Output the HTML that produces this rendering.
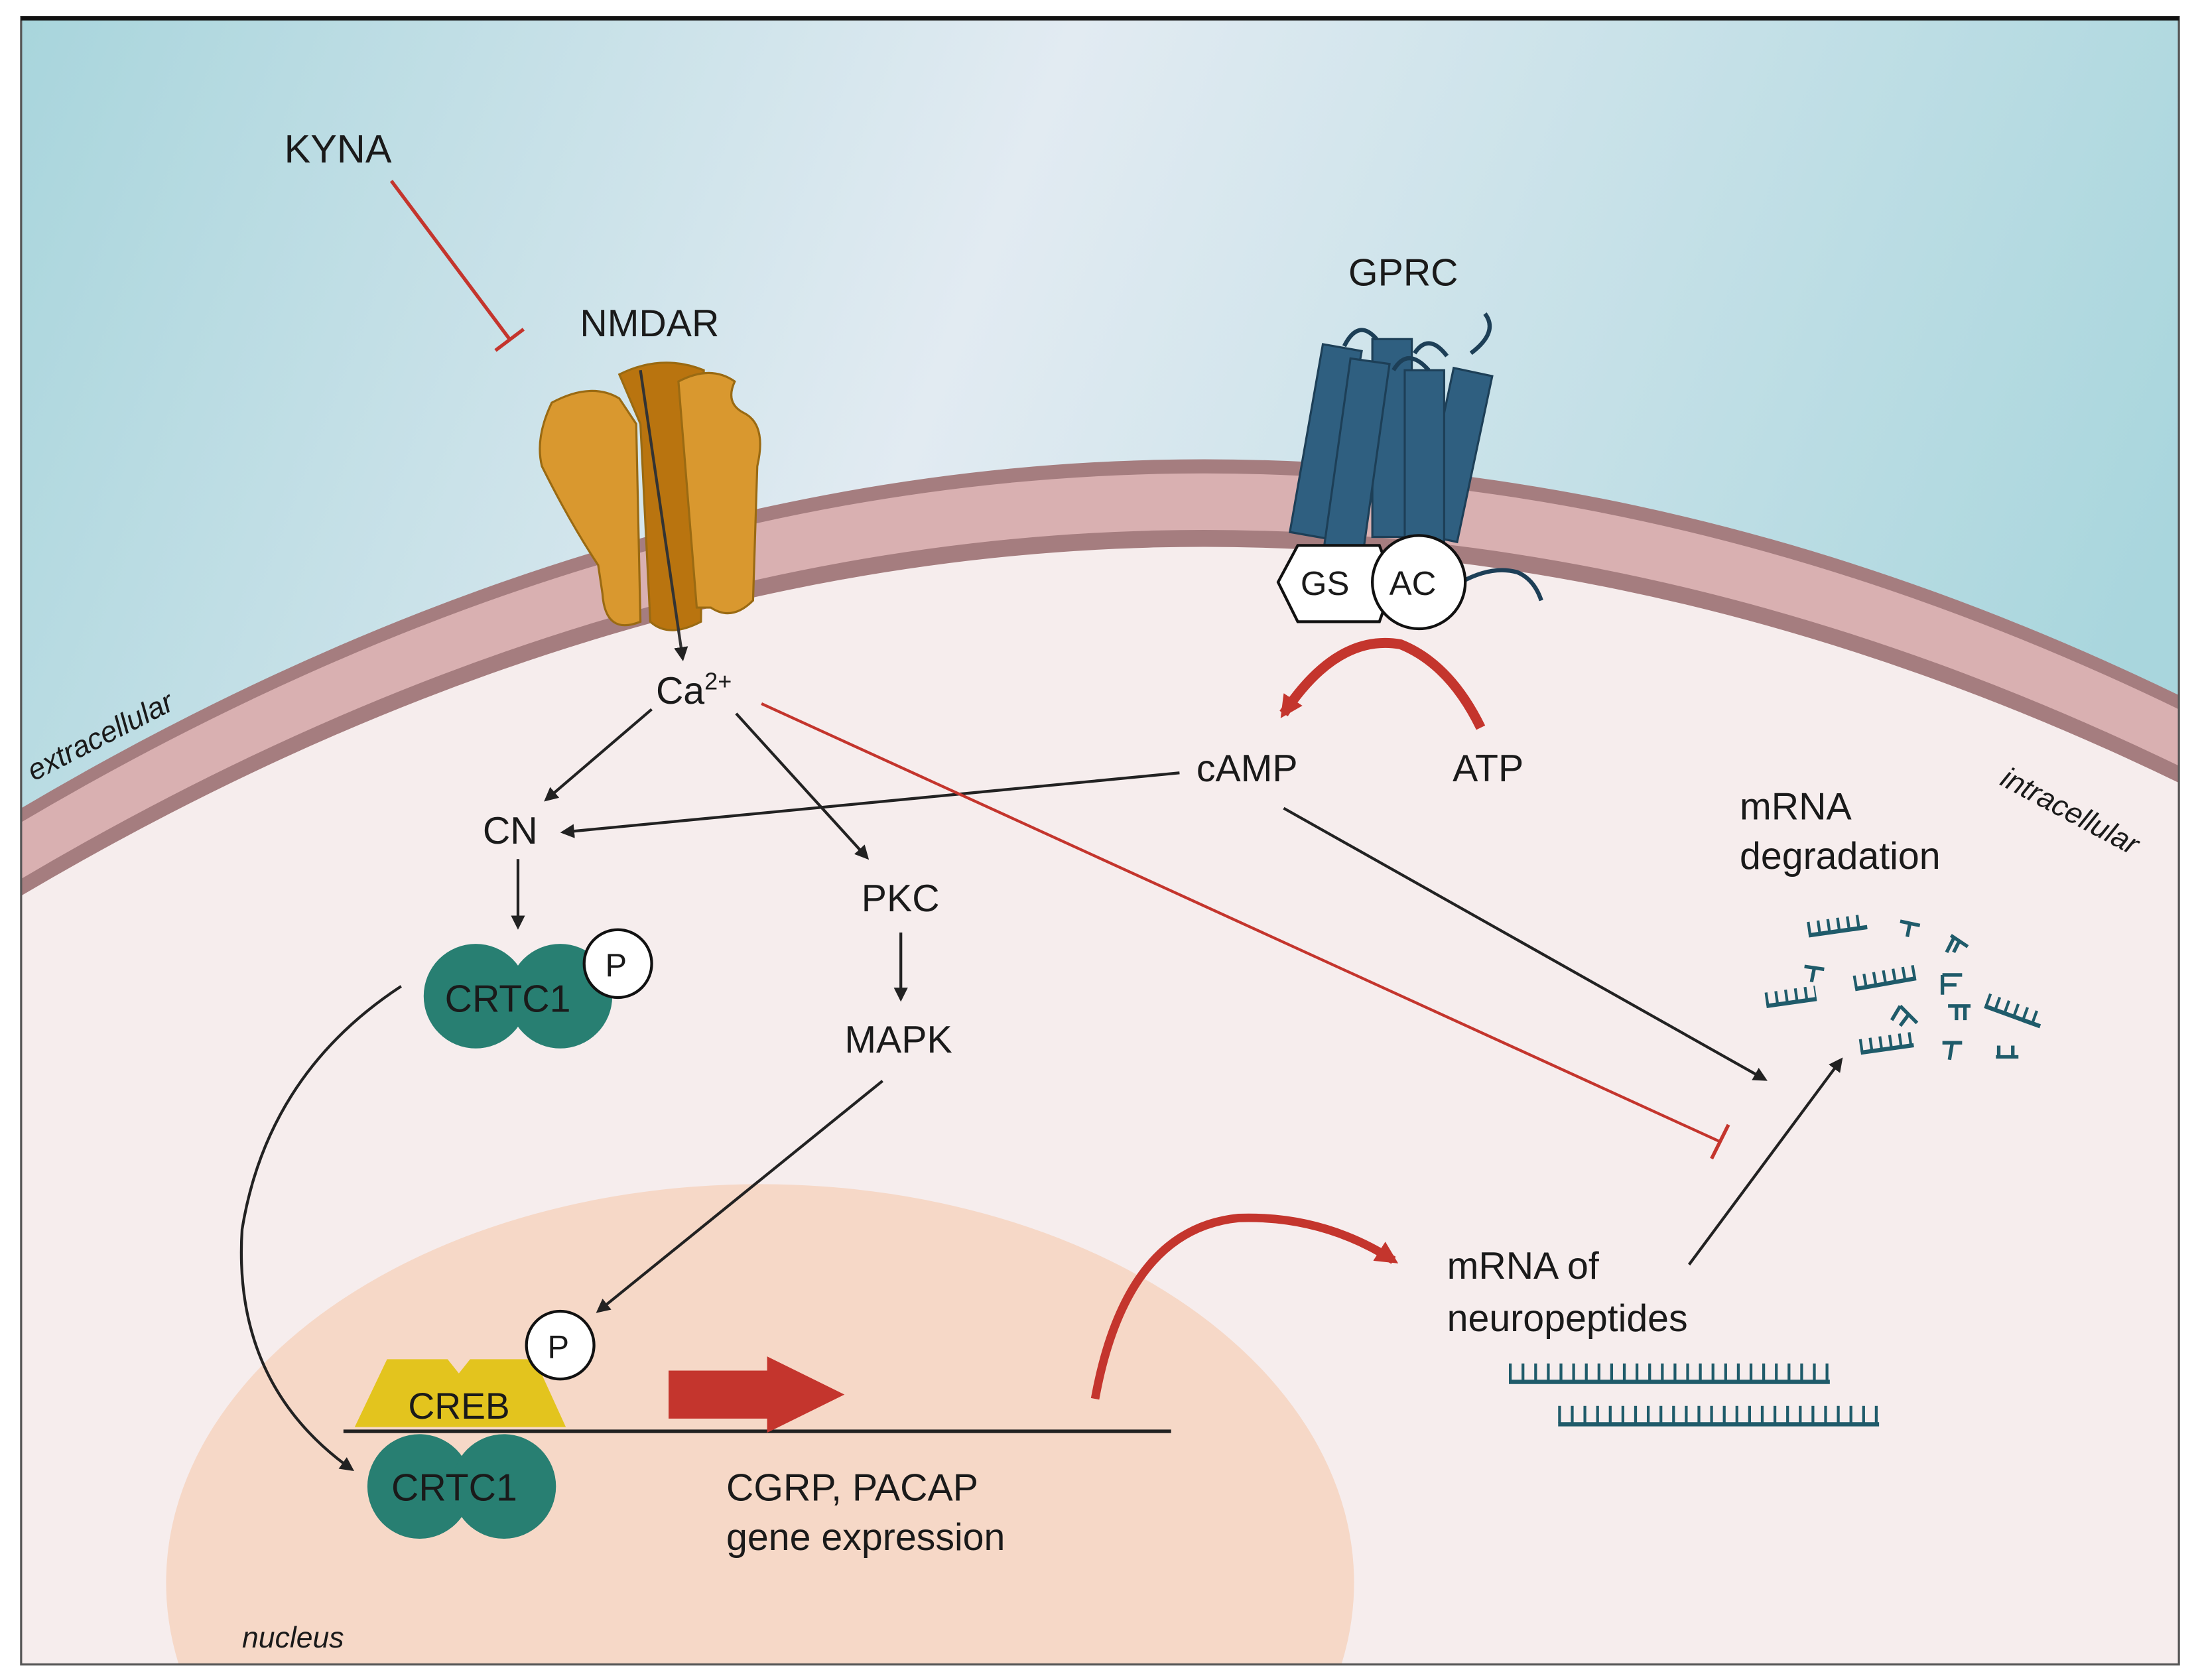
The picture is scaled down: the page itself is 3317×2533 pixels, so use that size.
<!DOCTYPE html>
<html><head><meta charset="utf-8"><style>
html,body{margin:0;padding:0;background:#fff;width:3317px;height:2533px;overflow:hidden;}
svg{display:block;}
text{font-family:"Liberation Sans",sans-serif;fill:#1a1a1a;}
</style></head><body>
<svg width="3317" height="2533" viewBox="0 0 1563 1189" preserveAspectRatio="none" xmlns="http://www.w3.org/2000/svg">
<defs>
<linearGradient id="bg" x1="0" y1="0" x2="1" y2="0.3">
<stop offset="0" stop-color="#a8d5dc"/><stop offset="0.45" stop-color="#e2ebf2"/><stop offset="1" stop-color="#a9d6dd"/>
</linearGradient>
<marker id="ah" markerWidth="10" markerHeight="10" refX="8" refY="5" orient="auto" markerUnits="userSpaceOnUse"><path d="M0,0 L10,5 L0,10 Z" fill="#222"/></marker>
<marker id="ahr" markerWidth="16" markerHeight="16" refX="12" refY="8" orient="auto" markerUnits="userSpaceOnUse"><path d="M0,0 L16,8 L0,16 Z" fill="#c4352d"/></marker>
</defs>
<rect width="1563" height="1189" fill="#fff"/>
<rect x="15" y="12" width="1533" height="1166" fill="url(#bg)"/>
<path d="M15,572 Q780,122 1548,492 L1548,1178 L15,1178 Z" fill="#a57d7f"/>
<path d="M15,582 Q780,132 1548,502 L1548,1178 L15,1178 Z" fill="#d9b0b1"/>
<path d="M15,622 Q780,172 1548,542 L1548,1178 L15,1178 Z" fill="#a57d7f"/>
<path d="M15,634 Q780,184 1548,554 L1548,1178 L15,1178 Z" fill="#f6eded"/>
<path d="M127,1178 A422,282 0 1 1 953,1178 Z" fill="#f6d8c7"/>
<rect x="15" y="12" width="1533" height="1166" fill="none" stroke="#555" stroke-width="1.5"/>
<line x1="15" y1="13" x2="1548" y2="13" stroke="#111" stroke-width="3"/>

<text x="24" y="553" font-size="21" font-style="italic" transform="rotate(-27 24 553)">extracellular</text>
<text x="1420" y="555" font-size="21" font-style="italic" transform="rotate(28 1420 555)">intracellular</text>

<text x="202" y="115" font-size="28">KYNA</text>
<line x1="278" y1="128" x2="362" y2="240" stroke="#c4352d" stroke-width="2.5"/>
<line x1="352" y1="248" x2="372" y2="233" stroke="#c4352d" stroke-width="2.5"/>

<text x="412" y="238" font-size="27">NMDAR</text>
<g stroke="#9a6a12" stroke-width="1.5">
<path d="M392,285 Q420,270 440,282 L452,300 L455,440 Q430,450 428,420 L425,400 Q405,370 385,330 Q380,310 392,285 Z" fill="#d9982f"/>
<path d="M440,265 Q470,250 500,262 L498,440 Q475,452 462,440 L455,300 Z" fill="#b9740f"/>
<path d="M482,270 Q505,258 522,270 Q515,285 528,292 Q545,300 538,330 L535,425 Q520,440 505,430 L495,430 Z" fill="#d9982f"/>
</g>
<line x1="455" y1="262" x2="485" y2="466" stroke="#333" stroke-width="2" marker-end="url(#ah)"/>
<text x="466" y="498" font-size="27">Ca<tspan font-size="17" dy="-10">2+</tspan></text>

<text x="958" y="202" font-size="27">GPRC</text>
<g fill="#2f5f80" stroke="#1d3f57" stroke-width="1.5">
<rect x="928" y="245" width="28" height="135" transform="rotate(10 942 312)"/>
<rect x="1020" y="262" width="28" height="120" transform="rotate(12 1034 322)"/>
<rect x="975" y="240" width="28" height="140"/>
<rect x="950" y="255" width="28" height="135" transform="rotate(8 964 322)"/>
<rect x="998" y="262" width="28" height="125"/>
</g>
<path d="M955,245 Q965,225 978,240 M1005,250 Q1015,235 1028,252 M1045,250 Q1065,235 1055,222 M990,262 Q1000,245 1015,262" fill="none" stroke="#1d3f57" stroke-width="3"/>
<polygon points="908,412 922,386 980,386 990,412 980,440 922,440" fill="#fff" stroke="#111" stroke-width="2"/>
<text x="924" y="421" font-size="24">GS</text>
<path d="M1038,412 Q1060,400 1078,405 Q1090,410 1095,425" fill="none" stroke="#1d3f57" stroke-width="3"/>
<circle cx="1008" cy="412" r="33" fill="#fff" stroke="#111" stroke-width="2"/>
<text x="987" y="421" font-size="24">AC</text>
<path d="M1052,515 Q1030,470 995,456 Q950,448 912,505" fill="none" stroke="#c4352d" stroke-width="7" marker-end="url(#ahr)"/>
<text x="850" y="553" font-size="27">cAMP</text>
<text x="1032" y="553" font-size="27">ATP</text>

<line x1="838" y1="547" x2="400" y2="589" stroke="#222" stroke-width="2" marker-end="url(#ah)"/>
<text x="343" y="597" font-size="27">CN</text>
<line x1="463" y1="502" x2="388" y2="566" stroke="#222" stroke-width="2" marker-end="url(#ah)"/>
<line x1="523" y1="505" x2="616" y2="607" stroke="#222" stroke-width="2" marker-end="url(#ah)"/>
<text x="612" y="645" font-size="27">PKC</text>
<line x1="640" y1="660" x2="640" y2="707" stroke="#222" stroke-width="2" marker-end="url(#ah)"/>
<text x="600" y="745" font-size="27">MAPK</text>
<line x1="368" y1="608" x2="368" y2="656" stroke="#222" stroke-width="2" marker-end="url(#ah)"/>

<circle cx="338" cy="705" r="37" fill="#287f72"/>
<circle cx="398" cy="705" r="37" fill="#287f72"/>
<text x="316" y="716" font-size="27">CRTC1</text>
<circle cx="439" cy="682" r="24" fill="#fff" stroke="#111" stroke-width="2"/>
<text x="430" y="691" font-size="23">P</text>

<path d="M285,698 Q190,760 172,870 Q165,980 250,1040" fill="none" stroke="#222" stroke-width="2" marker-end="url(#ah)"/>
<line x1="627" y1="765" x2="425" y2="928" stroke="#222" stroke-width="2" marker-end="url(#ah)"/>

<polygon points="252,1010 275,962 318,962 326,972 334,962 380,962 402,1010" fill="#e3c41e"/>
<text x="290" y="1004" font-size="26">CREB</text>
<line x1="244" y1="1013" x2="832" y2="1013" stroke="#222" stroke-width="2.5"/>
<circle cx="398" cy="952" r="24" fill="#fff" stroke="#111" stroke-width="2"/>
<text x="389" y="961" font-size="23">P</text>
<circle cx="298" cy="1052" r="37" fill="#287f72"/>
<circle cx="358" cy="1052" r="37" fill="#287f72"/>
<text x="278" y="1062" font-size="27">CRTC1</text>
<polygon points="475,970 545,970 545,960 600,987 545,1014 545,1004 475,1004" fill="#c4352d"/>
<text x="516" y="1062" font-size="27">CGRP, PACAP</text>
<text x="516" y="1097" font-size="27">gene expression</text>
<text x="172" y="1166" font-size="21" font-style="italic">nucleus</text>

<path d="M778,990 Q800,870 880,862 Q940,860 990,892" fill="none" stroke="#c4352d" stroke-width="6" marker-end="url(#ahr)"/>
<text x="1028" y="905" font-size="27">mRNA of</text>
<text x="1028" y="942" font-size="27">neuropeptides</text>
<line x1="1072" y1="978" x2="1300" y2="978" stroke="#1f5b6a" stroke-width="3"/>
<line x1="1072" y1="978" x2="1300" y2="978" stroke="#1f5b6a" stroke-width="12" stroke-dasharray="2,7" transform="translate(0,-7)"/>
<line x1="1107" y1="1008" x2="1335" y2="1008" stroke="#1f5b6a" stroke-width="3"/>
<line x1="1107" y1="1008" x2="1335" y2="1008" stroke="#1f5b6a" stroke-width="12" stroke-dasharray="2,7" transform="translate(0,-7)"/>

<line x1="1200" y1="895" x2="1308" y2="750" stroke="#222" stroke-width="2" marker-end="url(#ah)"/>
<line x1="912" y1="572" x2="1254" y2="764" stroke="#222" stroke-width="2" marker-end="url(#ah)"/>
<line x1="541" y1="498" x2="1222" y2="808" stroke="#c4352d" stroke-width="2"/>
<line x1="1216" y1="820" x2="1228" y2="796" stroke="#c4352d" stroke-width="2.5"/>

<text x="1236" y="580" font-size="27">mRNA</text>
<text x="1236" y="615" font-size="27">degradation</text>
<g stroke="#1f5b6a" fill="none">
<g transform="translate(1285,662) rotate(-8)"><line x1="0" y1="0" x2="42" y2="0" stroke-width="3"/><line x1="0" y1="-5" x2="42" y2="-5" stroke-width="9" stroke-dasharray="2,5"/></g>
<g transform="translate(1255,712) rotate(-8)"><line x1="0" y1="0" x2="36" y2="0" stroke-width="3"/><line x1="0" y1="-5" x2="36" y2="-5" stroke-width="9" stroke-dasharray="2,5"/></g>
<g transform="translate(1318,700) rotate(-10)"><line x1="0" y1="0" x2="44" y2="0" stroke-width="3"/><line x1="0" y1="-5" x2="44" y2="-5" stroke-width="9" stroke-dasharray="2,5"/></g>
<g transform="translate(1322,745) rotate(-8)"><line x1="0" y1="0" x2="38" y2="0" stroke-width="3"/><line x1="0" y1="-5" x2="38" y2="-5" stroke-width="9" stroke-dasharray="2,5"/></g>
<g transform="translate(1410,712) rotate(20)"><line x1="0" y1="0" x2="42" y2="0" stroke-width="3"/><line x1="0" y1="-5" x2="42" y2="-5" stroke-width="9" stroke-dasharray="2,5"/></g>
<g stroke-width="2.5">
<path d="M1350,652 l14,3 M1357,653 l-2,10"/>
<path d="M1386,662 l12,8 M1388,664 l-5,10 M1392,666 l-4,8"/>
<path d="M1282,684 l14,2 M1289,685 l-2,10"/>
<path d="M1380,690 l14,0 M1380,690 l0,14 M1380,697 l10,0"/>
<path d="M1350,712 l12,12 M1350,712 l-6,10 M1356,718 l-6,8"/>
<path d="M1384,712 l16,0 M1390,712 l0,10 M1396,712 l0,10"/>
<path d="M1380,738 l14,0 M1387,738 l-2,12"/>
<path d="M1418,748 l16,0 M1420,748 l0,-8 M1430,748 l0,-8"/>
</g>
</g>
</svg>
</body></html>
